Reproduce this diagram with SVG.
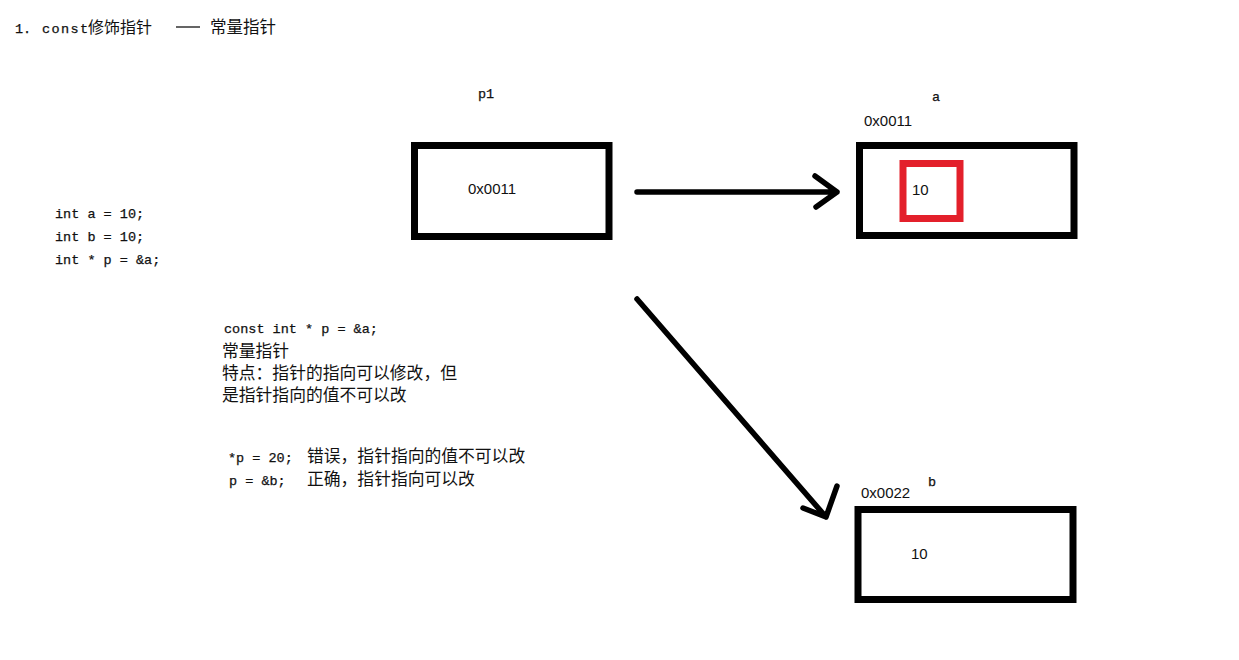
<svg xmlns="http://www.w3.org/2000/svg" width="1239" height="660" viewBox="0 0 1239 660">
<style>
.code{font-family:"Liberation Mono","Noto Sans CJK SC",monospace;font-size:13.5px;fill:#111;stroke:#111;stroke-width:0.25}
.cn{font-family:"Noto Sans CJK SC","Liberation Sans",sans-serif;font-size:16.8px;fill:#111;stroke:none}
.num{font-family:"Liberation Sans","DejaVu Sans",sans-serif;font-size:15px;fill:#111}
.box{fill:#fff;stroke:#000;stroke-width:7}
.arrow{fill:none;stroke:#000;stroke-width:5.5;stroke-linecap:round;stroke-linejoin:round}
</style>
<rect width="1239" height="660" fill="#fff"/>
<g id="title">
<text x="15" y="33" class="code">1.</text>
<text x="42" y="33" class="code" textLength="46" lengthAdjust="spacing">const</text>
<text x="88" y="33" class="cn" style="font-size:16px">修饰指针</text>
<line x1="176" y1="27" x2="200" y2="27" stroke="#111" stroke-width="1.3"/>
<text x="210" y="33" class="cn" style="font-size:16.5px">常量指针</text>
</g>
<g id="declarations">
<text x="55" y="218" class="code">int a = 10;</text>
<text x="55" y="241" class="code">int b = 10;</text>
<text x="55" y="264" class="code">int * p = &amp;a;</text>
</g>
<g id="notes">
<text x="224" y="333" class="code">const int * p = &amp;a;</text>
<text x="222" y="357" class="cn">常量指针</text>
<text x="222" y="379" class="cn">特点：指针的指向可以修改，但</text>
<text x="222" y="401" class="cn">是指针指向的值不可以改</text>
<text x="228" y="462" class="code">*p = 20;</text>
<text x="307" y="462" class="cn">错误，指针指向的值不可以改</text>
<text x="229" y="485" class="code">p = &amp;b;</text>
<text x="307" y="485" class="cn">正确，指针指向可以改</text>
</g>
<g id="node-p1">
<text x="478" y="98" class="code">p1</text>
<rect x="414.5" y="145.5" width="194.5" height="91" class="box"/>
<text x="468" y="194" class="num">0x0011</text>
</g>
<g id="node-a">
<text x="932" y="101" class="code">a</text>
<text x="864" y="126" class="num">0x0011</text>
<rect x="859.5" y="145.5" width="214.5" height="90" class="box"/>
<rect x="903" y="163.5" width="57" height="55" fill="none" stroke="#e3202b" stroke-width="7"/>
<text x="912" y="195" class="num">10</text>
</g>
<g id="node-b">
<text x="928" y="486" class="code">b</text>
<text x="861" y="498" class="num">0x0022</text>
<rect x="858" y="509.5" width="215" height="90" class="box"/>
<text x="911" y="559" class="num">10</text>
</g>
<g id="connectors">
<path d="M637 192 L837 192 M815 176 L837 192 L816 207" class="arrow"/>
<path d="M637 299 L826 517 M837 486 L826 517 L803 508" class="arrow"/>
</g>
</svg>
